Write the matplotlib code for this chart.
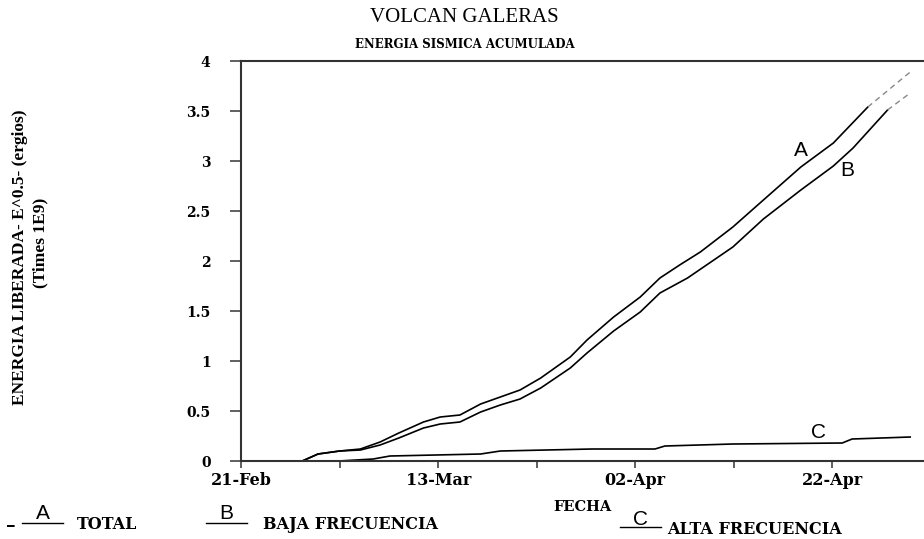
import matplotlib
matplotlib.use("Agg")
import matplotlib.pyplot as plt
from matplotlib.ticker import FixedLocator

# days counted from 21-Feb
a_days = [6.2, 7.8, 10, 12.1, 14.1, 16, 18.5, 20.2, 22.2, 24.3, 26.3, 28.3, 30.4,
          33.4, 35.1, 37.8, 40.5, 42.5, 44.5, 46.6, 49.9, 53.0, 56.8, 60.1, 63.6]
a_vals = [0.0, 0.07, 0.10, 0.12, 0.19, 0.28, 0.39, 0.44, 0.46, 0.57, 0.64, 0.71, 0.83,
          1.04, 1.21, 1.44, 1.64, 1.83, 1.96, 2.09, 2.34, 2.61, 2.94, 3.18, 3.54]
a_tail_days = [63.6, 67.9]
a_tail_vals = [3.54, 3.89]

b_days = [6.2, 7.8, 10, 12.1, 14.1, 16, 18.5, 20.2, 22.2, 24.3, 26.3, 28.3, 30.4,
          33.4, 35.1, 37.8, 40.5, 42.5, 45.3, 49.9, 53.0, 56.8, 60.1, 62.1, 65.6]
b_vals = [0.0, 0.07, 0.10, 0.11, 0.16, 0.23, 0.33, 0.37, 0.39, 0.49, 0.56, 0.62, 0.73,
          0.93, 1.08, 1.30, 1.49, 1.68, 1.83, 2.14, 2.42, 2.71, 2.95, 3.13, 3.51]
b_tail_days = [65.6, 67.9]
b_tail_vals = [3.51, 3.68]

c_days = [9.9, 13.4, 15.1, 24.3, 26.3, 35.6, 42.0, 43.0, 49.9, 61.0, 62.0, 67.9]
c_vals = [0.0, 0.02, 0.05, 0.07, 0.10, 0.12, 0.12, 0.15, 0.17, 0.18, 0.22, 0.24]

x_ticks = [0, 20, 40, 60]
x_labels = ["21-Feb", "13-Mar", "02-Apr", "22-Apr"]
y_ticks = [0, 0.5, 1, 1.5, 2, 2.5, 3, 3.5, 4]
y_labels = ["0", "0.5", "1", "1.5", "2", "2.5", "3", "3.5", "4"]

tfont = dict(family="DejaVu Serif", fontweight="bold")

fig = plt.figure(figsize=(9.24, 5.39), dpi=100)
ax = fig.add_axes([0.261, 0.1447, 0.739, 0.7421])

ax.plot(a_days, a_vals, color="black", lw=1.2)
ax.plot(a_tail_days, a_tail_vals, color="#888888", lw=1.0, ls=(0, (4, 3)))
ax.plot(b_days, b_vals, color="black", lw=1.2)
ax.plot(b_tail_days, b_tail_vals, color="#888888", lw=1.0, ls=(0, (4, 3)))
ax.plot(c_days, c_vals, color="black", lw=1.2)

ax.text(56.8, 3.11, "A", fontsize=15, ha="center", va="center", family="Liberation Sans")
ax.text(61.5, 2.91, "B", fontsize=15, ha="center", va="center", family="Liberation Sans")
ax.text(58.6, 0.29, "C", fontsize=15, ha="center", va="center", family="Liberation Sans")

ax.set_xlim(0, 69.3)
ax.set_ylim(0, 4)
ax.set_xticks(x_ticks)
ax.set_xticklabels(x_labels, **tfont, fontsize=11.5)
ax.xaxis.set_minor_locator(FixedLocator([10, 30, 50]))
ax.set_yticks(y_ticks)
ax.set_yticklabels(y_labels, **tfont, fontsize=10)
ax.tick_params(axis="y", direction="out", length=8, width=1.2, color="#444444", pad=14)
ax.tick_params(axis="x", which="both", direction="out", length=5, width=1.2, color="#444444", pad=3)
ax.spines["right"].set_visible(False)
for s in ["left", "top", "bottom"]:
    ax.spines[s].set_color("#333333")
    ax.spines[s].set_linewidth(1.5)

fig.text(0.503, 0.968, "VOLCAN GALERAS", ha="center", va="center",
         family="Liberation Serif", fontsize=15)
fig.text(0.503, 0.917, "ENERGIA SISMICA ACUMULADA", ha="center", va="center",
         fontsize=8.5, **tfont)

fig.text(0.022, 0.523, "ENERGIA LIBERADA- E^0.5- (ergios)", rotation=90,
         ha="center", va="center", family="Liberation Serif", fontweight="bold", fontsize=12.5)
fig.text(0.044, 0.549, "(Times 1E9)", rotation=90,
         ha="center", va="center", family="Liberation Serif", fontweight="bold", fontsize=12.5)

fig.text(0.630, 0.059, "FECHA", ha="center", va="center", fontsize=10.5, **tfont)

# bottom key
fig.text(0.012, 0.030, "_", fontsize=11, ha="center", va="baseline", fontweight="bold")
key_letters = ["A", "B", "C"]
key_texts = ["TOTAL", "BAJA FRECUENCIA", "ALTA FRECUENCIA"]
key_x = [0.046, 0.245, 0.693]
key_base = [0.037, 0.037, 0.026]
key_line_y = [0.0297, 0.0297, 0.0223]
key_text_x = [0.083, 0.285, 0.722]
key_text_y = [0.026, 0.026, 0.0167]
for i in range(3):
    lx = key_x[i]
    fig.text(lx, key_base[i], key_letters[i], fontsize=15, ha="center", va="baseline",
             family="Liberation Sans")
    fig.add_artist(plt.Line2D([lx - 0.022, lx + 0.022], [key_line_y[i], key_line_y[i]],
                              color="black", lw=1.0, transform=fig.transFigure))
    fig.text(key_text_x[i], key_text_y[i], key_texts[i], fontsize=11.5, ha="left",
             va="center", **tfont)

fig.savefig("out.png", dpi=100)
